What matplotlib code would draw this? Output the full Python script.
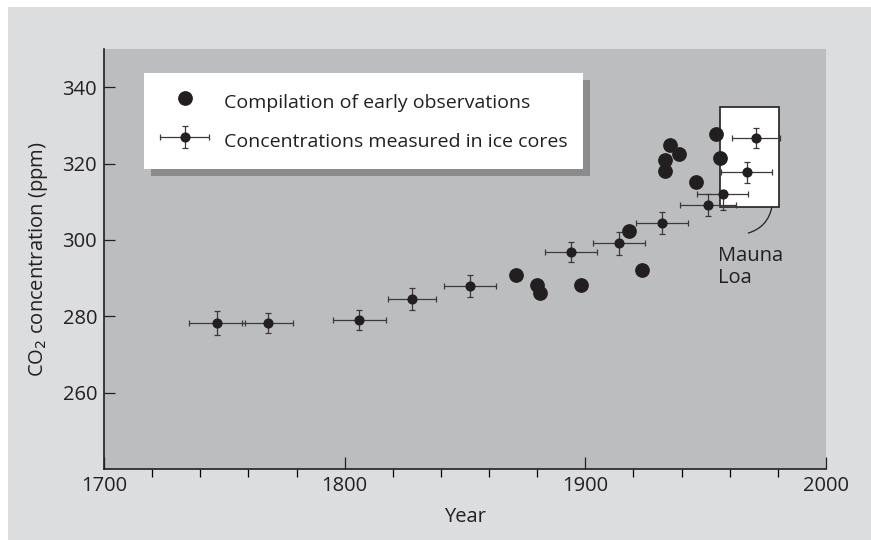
import numpy as np
import matplotlib
matplotlib.use("Agg")
import matplotlib.pyplot as plt
from matplotlib.patches import Rectangle
from matplotlib.lines import Line2D
from matplotlib.container import ErrorbarContainer
from matplotlib.legend_handler import HandlerErrorbar

plt.rcParams['font.family'] = ['Open Sans', 'DejaVu Sans']

# compilation of early observations
early_year = [1871, 1880, 1881, 1898, 1918, 1923.5, 1933.3, 1933.3, 1935, 1939, 1946, 1954.5, 1956]
early_co2 = [290.7, 288.3, 286.0, 288.3, 302.3, 292.0, 318.1, 320.9, 324.9, 322.5, 315.1, 327.7, 321.5]

# ice core measurements
ice_year = [1747, 1768, 1806, 1828, 1852, 1894, 1914, 1932, 1951, 1957, 1967, 1971]
ice_co2 = [278.3, 278.3, 279.0, 284.5, 287.9, 296.8, 299.1, 304.5, 309.2, 312.0, 317.7, 326.8]
ice_xerr = [11.5, 10.5, 11, 10, 10.7, 10.7, 10.8, 10.8, 11.8, 10.5, 10.7, 10]
ice_yerr_lo = [3.1, 2.6, 2.7, 2.9, 2.9, 2.6, 3.0, 2.9, 2.9, 4.2, 2.7, 2.6]
ice_yerr_hi = [3.1, 2.6, 2.7, 2.9, 2.9, 2.6, 3.0, 2.9, 2.9, 1.0, 2.7, 2.6]

# Mauna Loa box (years, ppm)
mauna_x = [1955.9, 1980.5]
mauna_y = [308.6, 334.7]

dark = '#231f20'
bg = '#dcdddf'
fs = 14.5
lfs = 14

fig = plt.figure(figsize=(8.71, 5.40), dpi=100, facecolor=bg)
# white margin on the left and top
fig.patches.append(Rectangle((0, 0), 8/871, 1, transform=fig.transFigure,
                             facecolor='white', edgecolor='none', zorder=-10))
fig.patches.append(Rectangle((0, 1 - 7/540), 1, 7/540, transform=fig.transFigure,
                             facecolor='white', edgecolor='none', zorder=-10))
ax = fig.add_axes([104/871, 1 - 469/540, 722/871, 420/540])
ax.set_facecolor('#bcbdbf')

ax.add_patch(Rectangle((mauna_x[0], mauna_y[0]), mauna_x[1] - mauna_x[0], mauna_y[1] - mauna_y[0],
                       facecolor='white', edgecolor=dark, linewidth=1.2, zorder=1.5))

ax.plot(early_year, early_co2, 'o', color=dark, markersize=9.6, zorder=2.5)
eb = ax.errorbar(ice_year, ice_co2, xerr=ice_xerr, yerr=[ice_yerr_lo, ice_yerr_hi], fmt='o',
                 color=dark, ecolor='#3a3a3a', markersize=6.3, elinewidth=0.9,
                 capsize=2.5, capthick=0.9, zorder=3)

ax.annotate('', xy=(1967.7, 301.8), xytext=(1977.5, 308.6),
            arrowprops=dict(arrowstyle='-', color=dark, lw=0.9,
                            connectionstyle='arc3,rad=-0.3', shrinkA=0, shrinkB=0))
ax.text(1955.1, 298.3, 'Mauna\nLoa', ha='left', va='top', fontsize=fs, color=dark,
        linespacing=1.1)

ax.set_xlim(1700, 2000)
ax.set_ylim(240, 350)
ax.set_xticks([1700, 1800, 1900, 2000])
ax.set_xticks(np.arange(1700, 2001, 20), minor=True)
ax.set_yticks([260, 280, 300, 320, 340])
ax.tick_params(axis='both', direction='in', labelsize=fs, colors=dark, width=0.9, pad=5)
ax.tick_params(axis='x', which='major', length=9)
ax.tick_params(axis='x', which='minor', length=5.5, width=0.9)
ax.tick_params(axis='y', which='major', length=8)
for s in ['top', 'right']:
    ax.spines[s].set_visible(False)
for s in ['left', 'bottom']:
    ax.spines[s].set_color(dark)
    ax.spines[s].set_linewidth(1.2)

ax.set_xlabel('Year', fontsize=fs, color=dark, labelpad=8)
ax.set_ylabel('CO$_2$ concentration (ppm)', fontsize=fs, color=dark, labelpad=9)

h1 = Line2D([], [], marker='o', linestyle='none', color=dark, markersize=9.6)
leg = ax.legend([h1, eb], ['Compilation of early observations', 'Concentrations measured in ice cores'],
                loc='upper left', bbox_to_anchor=((144 - 104) / 722, 1 - (72.7 - 49) / 420),
                borderaxespad=0, fontsize=lfs, frameon=True, fancybox=False,
                handlelength=2.58, handleheight=1.75, handletextpad=0.71,
                labelspacing=0.61, borderpad=0.8,
                handler_map={ErrorbarContainer: HandlerErrorbar(xerr_size=1.26, yerr_size=0.57)})
leg.get_frame().set_facecolor('white')
leg.get_frame().set_edgecolor('none')
leg.get_frame().set_alpha(1)
for t in leg.get_texts():
    t.set_color(dark)

fig.canvas.draw()
bb = leg.get_window_extent().transformed(ax.transAxes.inverted())
ax.add_patch(Rectangle((bb.x0 + 7 / 722, bb.y0 - 7 / 420), bb.width, bb.height,
                       transform=ax.transAxes, facecolor='#8a8b8d', edgecolor='none',
                       zorder=4.9, clip_on=False))

fig.savefig('out.png', dpi=100, facecolor=bg)
